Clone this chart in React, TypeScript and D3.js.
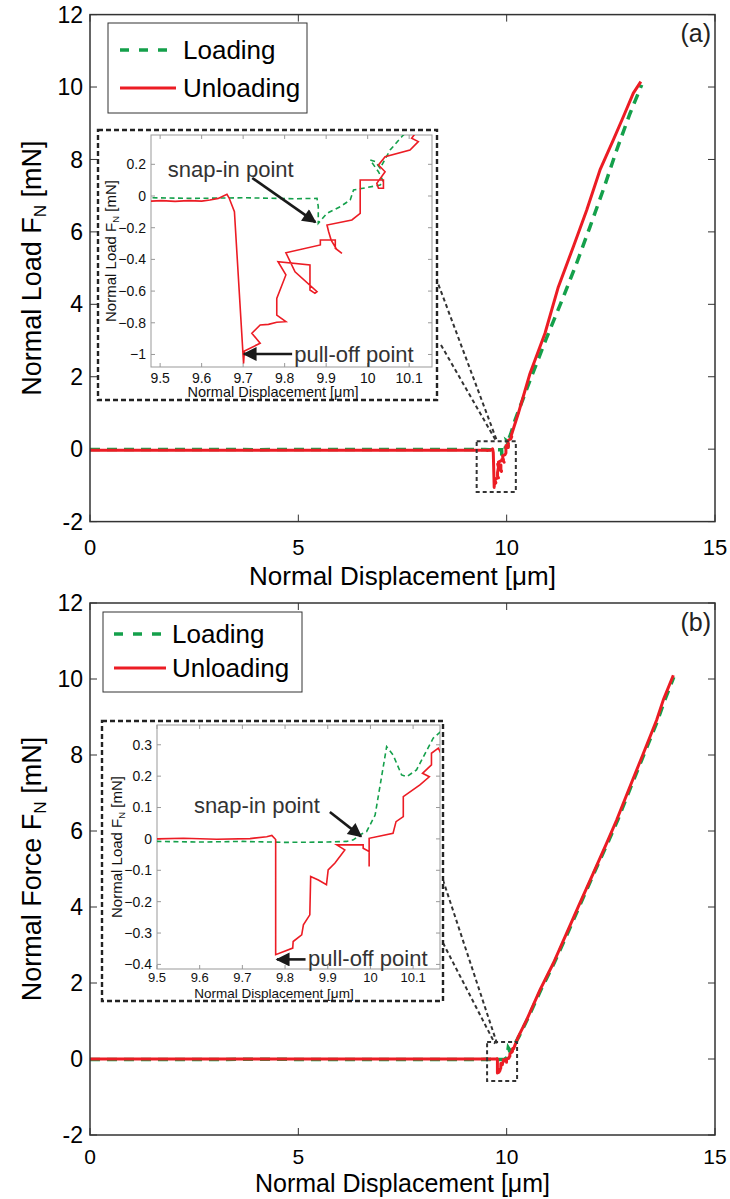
import React from "react";
import * as d3 from "d3";

type Pt = [number, number];

const FONT = "'Liberation Sans', Arial, Helvetica, sans-serif";
const GREEN = "#14a04b";
const RED = "#ec1c24";
const AXIS = "#333";

const xTicks = [0, 5, 10, 15];
const yTicks = [-2, 0, 2, 4, 6, 8, 10, 12];
const insetXTicks = [9.5, 9.6, 9.7, 9.8, 9.9, 10, 10.1];
const insetAYTicks = [-1, -0.8, -0.6, -0.4, -0.2, 0, 0.2];
const insetBYTicks = [-0.4, -0.3, -0.2, -0.1, 0, 0.1, 0.2, 0.3];
const legendLabels = ["Loading", "Unloading"];

// ---- panel (a) ----
const loadingAFlat: Pt[] = [[0, -0.012], [2, -0.01], [4, -0.013], [6, -0.01], [8, -0.012], [9.3, -0.011]];
const loadingAInset: Pt[] = [
  [9.478, -0.011], [9.584, -0.015], [9.705, -0.011], [9.825, -0.017], [9.878, -0.015],
  [9.881, -0.067], [9.881, -0.172], [9.902, -0.109], [9.934, -0.067], [9.958, -0.025],
  [9.966, 0.038], [10.030, 0.069], [10.038, 0.090], [10.026, 0.153], [10.006, 0.227],
  [10.018, 0.217], [10.030, 0.175], [10.054, 0.290], [10.082, 0.374], [10.094, 0.406],
];
const loadingARise: Pt[] = [
  [10.2, 0.8], [10.56, 1.9], [10.95, 3.05], [11.36, 4.2], [11.7, 5.2], [12.0, 6.14],
  [12.33, 7.2], [12.64, 8.26], [12.96, 9.27], [13.24, 10.06],
];
const unloadingAFlat: Pt[] = [[0, -0.03], [2, -0.032], [4, -0.029], [6, -0.031], [8, -0.03], [9.3, -0.031]];
const unloadingAInset: Pt[] = [
  [9.478, -0.032], [9.504, -0.029], [9.536, -0.034], [9.568, -0.029], [9.600, -0.032],
  [9.620, -0.025], [9.640, -0.015], [9.661, 0.011], [9.666, -0.011], [9.679, -0.099],
  [9.701, -1.056], [9.703, -0.978], [9.741, -0.929], [9.721, -0.866], [9.741, -0.814],
  [9.761, -0.810], [9.781, -0.797], [9.803, -0.793], [9.781, -0.751], [9.781, -0.646],
  [9.803, -0.498], [9.784, -0.414], [9.861, -0.435], [9.861, -0.593], [9.873, -0.614],
  [9.878, -0.604], [9.825, -0.478], [9.803, -0.358], [9.886, -0.309], [9.886, -0.278],
  [9.922, -0.278], [9.922, -0.330], [9.938, -0.362], [9.925, -0.335], [9.912, -0.278],
  [9.906, -0.225], [9.902, -0.183], [9.962, -0.151], [9.982, -0.109], [9.982, 0.101],
  [10.038, 0.101], [10.038, 0.049], [10.026, 0.049], [10.022, 0.080], [10.042, 0.153],
  [10.026, 0.196], [10.042, 0.248], [10.102, 0.290], [10.122, 0.343], [10.106, 0.364],
];
const unloadingARise: Pt[] = [
  [10.28, 0.99], [10.56, 2.09], [10.92, 3.2], [11.24, 4.48], [11.6, 5.59], [11.92, 6.6],
  [12.24, 7.71], [12.56, 8.54], [12.8, 9.18], [13.04, 9.83], [13.22, 10.15],
];

// ---- panel (b) ----
const loadingBFlat: Pt[] = [[0, -0.01], [2, -0.012], [4, -0.009], [6, -0.011], [8, -0.01], [9.4, -0.01]];
const loadingBInset: Pt[] = [
  [9.499, -0.008], [9.6, -0.010], [9.7, -0.008], [9.8, -0.011], [9.9, -0.010],
  [9.944, -0.008], [9.960, -0.003], [9.975, 0.013], [9.991, 0.023], [10.011, 0.076],
  [10.038, 0.294], [10.053, 0.268], [10.073, 0.204], [10.085, 0.198], [10.108, 0.220],
  [10.147, 0.321], [10.174, 0.353],
];
const loadingBRise: Pt[] = [
  [10.3, 0.6], [10.5, 1.05], [10.83, 1.84], [11.15, 2.55], [11.47, 3.33], [11.75, 4.03],
  [12.1, 4.9], [12.43, 5.7], [12.67, 6.3], [12.98, 7.16], [13.3, 8.03], [13.62, 8.9],
  [13.79, 9.43], [14.01, 10.05],
];
const unloadingBFlat: Pt[] = [[0, 0.0], [2, 0.002], [4, -0.001], [6, 0.001], [8, 0.0], [9.4, 0.001]];
const unloadingBInset: Pt[] = [
  [9.499, 0.0], [9.562, 0.002], [9.640, -0.001], [9.718, 0.001], [9.757, 0.007],
  [9.769, 0.011], [9.778, -0.002], [9.778, -0.369], [9.818, -0.348], [9.819, -0.327],
  [9.839, -0.306], [9.843, -0.274], [9.858, -0.242], [9.860, -0.120], [9.878, -0.131],
  [9.897, -0.146], [9.901, -0.099], [9.917, -0.077], [9.940, -0.035], [9.921, -0.019],
  [9.983, -0.019], [9.983, -0.030], [9.997, -0.040], [9.997, -0.088], [9.997, 0.002],
  [10.053, 0.018], [10.060, 0.055], [10.077, 0.071], [10.077, 0.135], [10.116, 0.172],
  [10.138, 0.198], [10.122, 0.209], [10.143, 0.236], [10.143, 0.273], [10.159, 0.289],
  [10.167, 0.268], [10.174, 0.294],
];
const unloadingBRise: Pt[] = [
  [10.28, 0.59], [10.48, 1.03], [10.80, 1.82], [11.12, 2.52], [11.44, 3.31], [11.72, 4.01],
  [12.08, 4.89], [12.40, 5.68], [12.64, 6.29], [12.96, 7.17], [13.28, 8.04], [13.60, 8.92],
  [13.76, 9.45], [14.00, 10.1],
];

const panels = [
  {
    tag: "(a)",
    ylabel: "Normal Load F",
    loading: [...loadingAFlat, ...loadingAInset, ...loadingARise],
    unloading: [...unloadingAFlat, ...unloadingAInset, ...unloadingARise],
    frame: { left: 90, right: 715, top: 14.6, bottom: 521.6 },
    tickGap: 26,
    labelGap: 54,
    tickFont: 22,
    labelFont: 26,
    legend: { left: 108, right: 307, top: 23, bottom: 113, lineX: [120, 176], textX: 183, rows: [50, 88] },
    zoomBox: { x0: 9.28, x1: 10.22, y0: -1.18, y1: 0.22 },
    connectors: [[[436, 278], [9.77, 0.22]], [[441, 345], [9.75, 0.22]]],
    inset: {
      box: { left: 98, right: 437, top: 130, bottom: 400 },
      axes: { left: 151, right: 432, top: 135, bottom: 367 },
      xDomain: [9.478, 10.155], yDomain: [-1.079, 0.385],
      yTicks: insetAYTicks,
      yLabelX: 111,
      xLabelX: 273,
      tickGap: 11,
      labelGap: 25,
      tickFont: 14,
      labelFont: 14.5,
      snap: { text: [9.67, 0.17], tail: [9.722, 0.114], tip: [9.874, -0.165] },
      pull: { text: [9.823, -0.997], tail: [9.818, -0.997], tip: [9.702, -0.997] },
    },
  },
  {
    tag: "(b)",
    ylabel: "Normal Force F",
    loading: [...loadingBFlat, ...loadingBInset, ...loadingBRise],
    unloading: [...unloadingBFlat, ...unloadingBInset, ...unloadingBRise],
    frame: { left: 90, right: 715, top: 603, bottom: 1135 },
    tickGap: 22,
    labelGap: 48,
    tickFont: 21,
    labelFont: 25,
    legend: { left: 103, right: 302, top: 612, bottom: 692, lineX: [114, 166], textX: 172, rows: [634, 668] },
    zoomBox: { x0: 9.53, x1: 10.25, y0: -0.58, y1: 0.45 },
    connectors: [[[443, 880], [9.77, 0.4]], [[443, 943], [9.72, 0.4]]],
    inset: {
      box: { left: 102, right: 443, top: 721, bottom: 1001 },
      axes: { left: 157, right: 440, top: 725, bottom: 969 },
      xDomain: [9.5, 10.163], yDomain: [-0.4146, 0.363],
      yTicks: insetBYTicks,
      yLabelX: 117,
      xLabelX: 274,
      tickGap: 8.5,
      labelGap: 24,
      tickFont: 13,
      labelFont: 13.5,
      snap: { text: [9.734, 0.108], tail: [9.905, 0.086], tip: [9.978, 0.008] },
      pull: { text: [9.854, -0.379], tail: [9.848, -0.384], tip: [9.781, -0.384] },
    },
  },
];

function Inset({ spec, loading, unloading, id }) {
  const a = spec.axes;
  const x = d3.scaleLinear().domain(spec.xDomain).range([a.left, a.right]);
  const y = d3.scaleLinear().domain(spec.yDomain).range([a.bottom, a.top]);
  const line = d3.line<Pt>().x((d) => x(d[0])).y((d) => y(d[1]));
  const b = spec.box;
  const fmt = (v: number) => (Math.abs(v) < 1e-9 ? "0" : d3.format("~g")(v));
  const arrow = (p) => (
    <line
      x1={x(p.tail[0])}
      y1={y(p.tail[1])}
      x2={x(p.tip[0])}
      y2={y(p.tip[1])}
      stroke="#1a1a1a"
      strokeWidth={2.6}
      markerEnd="url(#arrowhead)"
    />
  );
  return (
    <g>
      <defs>
        <clipPath id={id}>
          <rect x={a.left} y={a.top} width={a.right - a.left} height={a.bottom - a.top} />
        </clipPath>
      </defs>
      <rect
        x={b.left}
        y={b.top}
        width={b.right - b.left}
        height={b.bottom - b.top}
        fill="#fff"
        stroke="#222"
        strokeWidth={2.4}
        strokeDasharray="5,3"
      />
      <rect x={a.left} y={a.top} width={a.right - a.left} height={a.bottom - a.top} fill="#fff" stroke="#999" strokeWidth={1} />
      {insetXTicks.map((t) => (
        <g key={"x" + t}>
          <line x1={x(t)} x2={x(t)} y1={a.bottom} y2={a.bottom - 4} stroke="#999" />
          <line x1={x(t)} x2={x(t)} y1={a.top} y2={a.top + 4} stroke="#999" />
          <text x={x(t)} y={a.bottom + spec.tickGap} dy="0.35em" textAnchor="middle" fontSize={spec.tickFont} fill="#111">
            {fmt(t)}
          </text>
        </g>
      ))}
      {spec.yTicks.map((t) => (
        <g key={"y" + t}>
          <line x1={a.left} x2={a.left + 4} y1={y(t)} y2={y(t)} stroke="#999" />
          <line x1={a.right} x2={a.right - 4} y1={y(t)} y2={y(t)} stroke="#999" />
          <text x={a.left - 5} y={y(t)} dy="0.35em" textAnchor="end" fontSize={14} fill="#111">
            {fmt(t)}
          </text>
        </g>
      ))}
      <g clipPath={`url(#${id})`}>
        <path d={line(loading) || ""} fill="none" stroke={GREEN} strokeWidth={1.6} strokeDasharray="5,3.5" />
        <path d={line(unloading) || ""} fill="none" stroke={RED} strokeWidth={1.6} />
      </g>
      <text x={spec.xLabelX} y={a.bottom + spec.labelGap} dy="0.35em" textAnchor="middle" fontSize={spec.labelFont} fill="#111">
        Normal Displacement [μm]
      </text>
      <text
        transform={`translate(${spec.yLabelX},${(a.top + a.bottom) / 2}) rotate(-90)`}
        textAnchor="middle"
        dy="0.35em"
        fontSize={15}
        fill="#111"
      >
        Normal Load F<tspan fontSize={9.5} dy="3">N</tspan>
        <tspan dy="-3"> [mN]</tspan>
      </text>
      {arrow(spec.snap)}
      {arrow(spec.pull)}
      <text x={x(spec.snap.text[0])} y={y(spec.snap.text[1])} dy="0.35em" textAnchor="middle" fontSize={22} fill="#333">
        snap-in point
      </text>
      <text x={x(spec.pull.text[0])} y={y(spec.pull.text[1])} dy="0.35em" textAnchor="start" fontSize={22} fill="#333">
        pull-off point
      </text>
    </g>
  );
}

function Panel({ spec, idx }) {
  const f = spec.frame;
  const x = d3.scaleLinear().domain([0, 15]).range([f.left, f.right]);
  const y = d3.scaleLinear().domain([-2, 12]).range([f.bottom, f.top]);
  const line = d3.line<Pt>().x((d) => x(d[0])).y((d) => y(d[1]));
  const zb = spec.zoomBox;
  const lg = spec.legend;
  const clipId = "main-clip-" + idx;
  return (
    <g>
      <defs>
        <clipPath id={clipId}>
          <rect x={f.left} y={f.top} width={f.right - f.left} height={f.bottom - f.top} />
        </clipPath>
      </defs>
      <rect x={f.left} y={f.top} width={f.right - f.left} height={f.bottom - f.top} fill="#fff" />
      {xTicks.map((t) => (
        <g key={"x" + t}>
          <line x1={x(t)} x2={x(t)} y1={f.bottom} y2={f.bottom - 7} stroke={AXIS} />
          <line x1={x(t)} x2={x(t)} y1={f.top} y2={f.top + 7} stroke={AXIS} />
          <text x={x(t)} y={f.bottom + spec.tickGap} dy="0.35em" textAnchor="middle" fontSize={spec.tickFont} fill="#000">
            {t}
          </text>
        </g>
      ))}
      {yTicks.map((t) => (
        <g key={"y" + t}>
          <line x1={f.left} x2={f.left + 7} y1={y(t)} y2={y(t)} stroke={AXIS} />
          <line x1={f.right} x2={f.right - 7} y1={y(t)} y2={y(t)} stroke={AXIS} />
          <text x={f.left - 7} y={y(t)} dy="0.35em" textAnchor="end" fontSize={23} fill="#000">
            {t}
          </text>
        </g>
      ))}
      <g clipPath={`url(#${clipId})`}>
        <path d={line(spec.loading) || ""} fill="none" stroke={GREEN} strokeWidth={3.5} strokeDasharray="10,7" />
        <path d={line(spec.unloading) || ""} fill="none" stroke={RED} strokeWidth={3} strokeLinejoin="round" />
      </g>
      <rect
        x={x(zb.x0)}
        y={y(zb.y1)}
        width={x(zb.x1) - x(zb.x0)}
        height={y(zb.y0) - y(zb.y1)}
        fill="none"
        stroke="#333"
        strokeWidth={2}
        strokeDasharray="4,3"
      />
      {spec.connectors.map((c, i) => (
        <line
          key={i}
          x1={c[0][0]}
          y1={c[0][1]}
          x2={x(c[1][0])}
          y2={y(c[1][1])}
          stroke="#333"
          strokeWidth={2}
          strokeDasharray="4,3"
        />
      ))}
      <Inset spec={spec.inset} loading={spec.loading} unloading={spec.unloading} id={"inset-clip-" + idx} />
      <rect x={f.left} y={f.top} width={f.right - f.left} height={f.bottom - f.top} fill="none" stroke={AXIS} strokeWidth={1.5} />
      <rect x={lg.left} y={lg.top} width={lg.right - lg.left} height={lg.bottom - lg.top} fill="#fff" stroke={AXIS} strokeWidth={1} />
      {legendLabels.map((lab, i) => (
        <g key={lab}>
          <line
            x1={lg.lineX[0]}
            x2={lg.lineX[1]}
            y1={lg.rows[i]}
            y2={lg.rows[i]}
            stroke={i === 0 ? GREEN : RED}
            strokeWidth={i === 0 ? 3.5 : 3}
            strokeDasharray={i === 0 ? "9,10" : undefined}
          />
          <text x={lg.textX} y={lg.rows[i]} dy="0.35em" fontSize={26} fill="#000">
            {lab}
          </text>
        </g>
      ))}
      <text x={f.right - 4} y={f.top + 19} dy="0.35em" textAnchor="end" fontSize={25} fill="#222">
        {spec.tag}
      </text>
      <text x={(f.left + f.right) / 2} y={f.bottom + spec.labelGap} dy="0.35em" textAnchor="middle" fontSize={spec.labelFont} fill="#000">
        Normal Displacement [μm]
      </text>
      <text
        transform={`translate(32,${(f.top + f.bottom) / 2}) rotate(-90)`}
        textAnchor="middle"
        dy="0.35em"
        fontSize={27}
        fill="#000"
      >
        {spec.ylabel}
        <tspan fontSize={17} dy="5">N</tspan>
        <tspan dy="-5"> [mN]</tspan>
      </text>
    </g>
  );
}

export default function App() {
  return (
    <div style={{ position: "absolute", left: 0, top: 0 }}>
      <svg width={730} height={1199} style={{ display: "block", fontFamily: FONT, background: "#fff" }}>
        <defs>
          <marker
            id="arrowhead"
            viewBox="0 0 10 10"
            refX={9}
            refY={5}
            markerUnits="userSpaceOnUse"
            markerWidth={17}
            markerHeight={14}
            orient="auto"
          >
            <path d="M0,0 L10,5 L0,10 z" fill="#1a1a1a" />
          </marker>
        </defs>
        {panels.map((p, i) => (
          <Panel key={p.tag} spec={p} idx={i} />
        ))}
      </svg>
    </div>
  );
}
